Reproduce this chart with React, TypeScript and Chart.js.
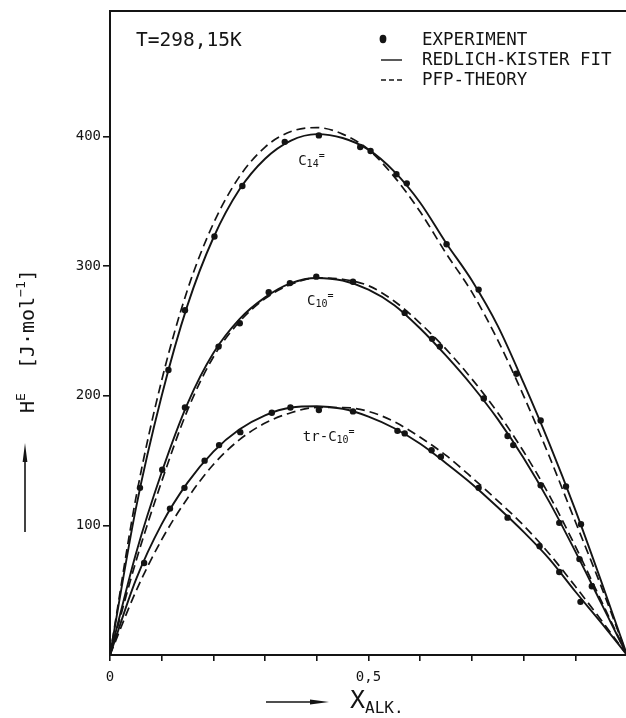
import React, { useEffect, useRef } from "react";
import { Chart, registerables } from "chart.js";

Chart.register(...registerables);

// ---------------- data ----------------
const xGrid = [0, 0.05, 0.1, 0.15, 0.2, 0.25, 0.3, 0.35, 0.4, 0.45, 0.5, 0.55, 0.6, 0.65, 0.7, 0.75, 0.8, 0.85, 0.9, 0.95, 1.0];

// Redlich-Kister fits (solid)
const c14Fit = [0, 113, 200, 270, 322, 359, 383, 397, 402, 399, 390, 373, 349, 318, 289, 254, 210, 163, 112, 57, 0];
const c10Fit = [0, 78, 141, 194, 233, 259, 276, 287, 291, 289, 282, 270, 252, 231, 208, 182, 152, 118, 80, 40, 0];
const trC10Fit = [0, 58, 101, 133, 157, 174, 185, 191, 192, 190, 184, 175, 163, 148, 132, 114, 95, 74, 49, 25, 0];

// PFP theory (dashed)
const c14Pfp = [0, 121, 212, 282, 333, 369, 392, 404, 407, 402, 390, 369, 342, 310, 280, 243, 200, 153, 103, 53, 0];
const c10Pfp = [0, 72, 134, 189, 230, 257, 275, 286, 291, 290, 285, 273, 256, 236, 213, 187, 157, 123, 84, 42, 0];
const trC10Pfp = [0, 49, 89, 121, 147, 166, 179, 187, 191, 191, 188, 180, 168, 154, 137, 119, 100, 78, 53, 27, 0];

// Experiment points
const c14ExpX = [0.058, 0.113, 0.145, 0.202, 0.256, 0.338, 0.404, 0.484, 0.504, 0.554, 0.574, 0.651, 0.713, 0.786, 0.833, 0.882, 0.911];
const c14ExpY = [129, 220, 266, 323, 362, 396, 401, 392, 389, 371, 364, 317, 282, 217, 181, 130, 101];

const c10ExpX = [0.101, 0.145, 0.21, 0.251, 0.307, 0.348, 0.399, 0.47, 0.57, 0.623, 0.638, 0.723, 0.769, 0.78, 0.833, 0.869, 0.908, 0.932];
const c10ExpY = [143, 191, 238, 256, 280, 287, 292, 288, 264, 244, 238, 198, 169, 162, 131, 102, 74, 53];

const trC10ExpX = [0.066, 0.116, 0.144, 0.183, 0.211, 0.252, 0.313, 0.349, 0.404, 0.47, 0.556, 0.57, 0.622, 0.64, 0.713, 0.769, 0.831, 0.869, 0.91];
const trC10ExpY = [71, 113, 129, 150, 162, 172, 187, 191, 189, 188, 173, 171, 158, 153, 129, 106, 84, 64, 41];

// ticks
const xTicks = [0, 0.1, 0.2, 0.3, 0.4, 0.5, 0.6, 0.7, 0.8, 0.9, 1.0];
const xTickLabels = ["0", "", "", "", "", "0,5", "", "", "", "", ""];
const yTicks = [100, 200, 300, 400];
const yTickLabels = ["100", "200", "300", "400"];

// texts
const tempLabel = "T=298,15K";
const legendLabels = ["EXPERIMENT", "REDLICH-KISTER FIT", "PFP-THEORY"];
const systemNames = [
  { main: "C", sub: "14", sup: "=" },
  { main: "C", sub: "10", sup: "=" },
  { main: "tr-C", sub: "10", sup: "=" },
];

// ---------------- styling ----------------
const INK = "#141414";
const FONT = '"DejaVu Sans Mono", "Liberation Mono", monospace';
const CANVAS_W = 640;
const CANVAS_H = 718;

const pts = (xs: number[], ys: number[]) => xs.map((x, i) => ({ x, y: ys[i] }));

type Part = { t: string; size: number; dy?: number };
function drawRich(ctx: CanvasRenderingContext2D, parts: Part[], x: number, y: number) {
  let cx = x;
  for (const p of parts) {
    ctx.font = `${p.size}px ${FONT}`;
    ctx.fillText(p.t, cx, y + (p.dy || 0));
    cx += ctx.measureText(p.t).width;
  }
}

const overlayPlugin = {
  id: "overlay",
  afterDraw(chart: any) {
    const { ctx, chartArea: a, scales } = chart;
    const xs = scales.x;
    const ys = scales.y;
    ctx.save();
    ctx.strokeStyle = INK;
    ctx.fillStyle = INK;
    ctx.textAlign = "left";
    ctx.textBaseline = "alphabetic";

    // frame top + right
    ctx.lineWidth = 2;
    ctx.setLineDash([]);
    ctx.beginPath();
    ctx.moveTo(a.left - 1, a.top);
    ctx.lineTo(a.right, a.top);
    ctx.lineTo(a.right, a.bottom);
    ctx.stroke();

    // temperature
    drawRich(ctx, [{ t: tempLabel, size: 19.5 }], 136, 46);

    // legend
    ctx.beginPath();
    ctx.ellipse(383, 39, 3.4, 4.2, 0, 0, Math.PI * 2);
    ctx.fill();
    drawRich(ctx, [{ t: legendLabels[0], size: 17.5 }], 422, 45);
    ctx.lineWidth = 1.4;
    ctx.beginPath();
    ctx.moveTo(381, 60);
    ctx.lineTo(402, 60);
    ctx.stroke();
    drawRich(ctx, [{ t: legendLabels[1], size: 17.5 }], 422, 65);
    ctx.setLineDash([5, 3]);
    ctx.beginPath();
    ctx.moveTo(381, 80);
    ctx.lineTo(403, 80);
    ctx.stroke();
    ctx.setLineDash([]);
    drawRich(ctx, [{ t: legendLabels[2], size: 17.5 }], 422, 85);

    // system labels (anchored in data coordinates)
    const anchors = [
      { x: 0.364, y: 378 },
      { x: 0.381, y: 270 },
      { x: 0.373, y: 165 },
    ];
    systemNames.forEach((s, i) => {
      const px = xs.getPixelForValue(anchors[i].x);
      const py = ys.getPixelForValue(anchors[i].y);
      drawRich(
        ctx,
        [
          { t: s.main, size: 14 },
          { t: s.sub, size: 10, dy: 2 },
          { t: s.sup, size: 10, dy: -6 },
        ],
        px,
        py
      );
    });

    // y-axis title (rotated)
    ctx.save();
    ctx.translate(34, 413);
    ctx.rotate(-Math.PI / 2);
    drawRich(
      ctx,
      [
        { t: "H", size: 20 },
        { t: "E", size: 13, dy: -9 },
        { t: "  [J·mol", size: 20 },
        { t: "−1", size: 13, dy: -9 },
        { t: "]", size: 20 },
      ],
      0,
      0
    );
    ctx.restore();

    // y arrow
    ctx.lineWidth = 1.6;
    ctx.beginPath();
    ctx.moveTo(25, 532);
    ctx.lineTo(25, 452);
    ctx.stroke();
    ctx.beginPath();
    ctx.moveTo(25, 443);
    ctx.lineTo(22.6, 462);
    ctx.lineTo(27.4, 462);
    ctx.closePath();
    ctx.fill();

    // x arrow
    ctx.beginPath();
    ctx.moveTo(266, 702);
    ctx.lineTo(318, 702);
    ctx.stroke();
    ctx.beginPath();
    ctx.moveTo(329, 702);
    ctx.lineTo(310, 699.6);
    ctx.lineTo(310, 704.4);
    ctx.closePath();
    ctx.fill();

    // x title
    drawRich(
      ctx,
      [
        { t: "X", size: 25 },
        { t: "ALK.", size: 16, dy: 5 },
      ],
      350,
      708
    );

    ctx.restore();
  },
};

export default function App() {
  const ref = useRef<HTMLCanvasElement | null>(null);

  useEffect(() => {
    if (!ref.current) return;
    const lineDs = (ys: number[], dashed: boolean) => ({
      data: pts(xGrid, ys),
      showLine: true,
      borderColor: INK,
      backgroundColor: INK,
      borderWidth: dashed ? 1.7 : 1.9,
      borderDash: dashed ? [9, 5] : [],
      pointRadius: 0,
      cubicInterpolationMode: "monotone" as const,
      fill: false,
    });
    const expDs = (xs: number[], ys: number[]) => ({
      data: pts(xs, ys),
      showLine: false,
      pointRadius: 3.2,
      pointBorderWidth: 0,
      pointBackgroundColor: INK,
      pointBorderColor: INK,
    });

    const chart = new Chart(ref.current, {
      type: "scatter",
      data: {
        datasets: [
          lineDs(c14Fit, false),
          lineDs(c14Pfp, true),
          lineDs(c10Fit, false),
          lineDs(c10Pfp, true),
          lineDs(trC10Fit, false),
          lineDs(trC10Pfp, true),
          expDs(c14ExpX, c14ExpY),
          expDs(c10ExpX, c10ExpY),
          expDs(trC10ExpX, trC10ExpY),
        ] as any,
      },
      options: {
        responsive: false,
        devicePixelRatio: 1,
        animation: false,
        events: [],
        layout: { padding: { top: 11, right: CANVAS_W - 627, left: 0, bottom: 0 } },
        plugins: { legend: { display: false }, tooltip: { enabled: false } },
        scales: {
          x: {
            type: "linear",
            min: 0,
            max: 1,
            afterFit: (s: any) => {
              s.height = CANVAS_H - 655;
            },
            afterBuildTicks: (s: any) => {
              s.ticks = xTicks.map((v) => ({ value: v }));
            },
            ticks: {
              autoSkip: false,
              maxRotation: 0,
              padding: 8,
              color: INK,
              font: { family: FONT, size: 14 },
              callback: (_v: any, i: number) => xTickLabels[i],
            },
            grid: { drawOnChartArea: false, drawTicks: true, tickLength: 6, color: INK, lineWidth: 1.6 },
            border: { display: true, color: INK, width: 2 },
          },
          y: {
            type: "linear",
            min: 0,
            max: 497,
            afterFit: (s: any) => {
              s.width = 110;
            },
            afterBuildTicks: (s: any) => {
              s.ticks = yTicks.map((v) => ({ value: v }));
            },
            ticks: {
              autoSkip: false,
              padding: 2,
              color: INK,
              font: { family: FONT, size: 14 },
              callback: (_v: any, i: number) => yTickLabels[i],
            },
            grid: { drawOnChartArea: false, drawTicks: true, tickLength: 7, color: INK, lineWidth: 1.6 },
            border: { display: true, color: INK, width: 2 },
          },
        },
      } as any,
      plugins: [overlayPlugin],
    });
    return () => chart.destroy();
  }, []);

  return (
    <div
      style={{
        position: "absolute",
        left: 0,
        top: 0,
        width: 626,
        height: 718,
        overflow: "hidden",
        background: "#fff",
      }}
    >
      <canvas ref={ref} width={CANVAS_W} height={CANVAS_H} style={{ display: "block", width: CANVAS_W, height: CANVAS_H }} />
    </div>
  );
}
